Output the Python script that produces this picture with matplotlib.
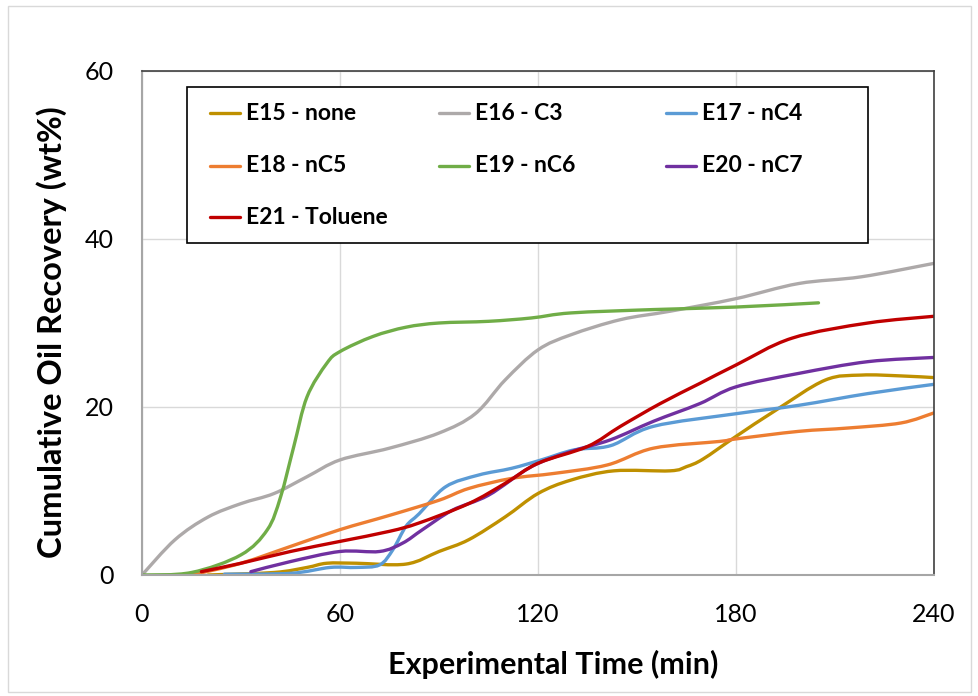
import numpy as np
import matplotlib.pyplot as plt
from matplotlib.lines import Line2D
from matplotlib.patches import PathPatch, Rectangle
from matplotlib.path import Path

# E15 - none
e15_t = [20, 40, 50, 56, 65, 80, 90, 99, 110, 120, 130, 143, 160, 165, 170, 180, 192, 207, 218, 230, 240]
e15_r = [0.0, 0.3, 0.9, 1.4, 1.4, 1.3, 2.8, 4.2, 6.9, 9.7, 11.3, 12.4, 12.4, 12.9, 13.8, 16.5, 19.6, 23.2, 23.8, 23.7, 23.5]
# E16 - C3
e16_t = [0, 10, 20, 30, 40, 50, 60, 75, 90, 101, 110, 120, 130, 145, 160, 180, 199, 218, 240]
e16_r = [0.0, 4.2, 6.9, 8.5, 9.7, 11.7, 13.7, 15.1, 16.9, 19.2, 23.2, 26.8, 28.6, 30.4, 31.4, 32.9, 34.7, 35.5, 37.1]
# E17 - nC4
e17_t = [25, 45, 57, 65, 72, 76, 80, 84, 92, 102, 112, 121, 131, 142, 155, 180, 199, 220, 240]
e17_r = [0.1, 0.2, 0.9, 0.9, 1.2, 3.0, 5.8, 7.3, 10.5, 11.9, 12.7, 13.7, 14.9, 15.4, 17.7, 19.2, 20.2, 21.6, 22.7]
# E18 - nC5
e18_t = [15, 30, 45, 60, 75, 90, 99, 112, 125, 141, 155, 175, 180, 199, 214, 230, 240]
e18_r = [0.0, 1.4, 3.4, 5.4, 7.1, 8.9, 10.3, 11.5, 12.1, 13.1, 15.1, 15.9, 16.2, 17.1, 17.5, 18.1, 19.3]
# E19 - nC6
e19_t = [0, 15, 30, 38, 42, 46, 50, 56, 60, 70, 80, 90, 105, 118, 130, 155, 180, 205]
e19_r = [0.0, 0.3, 2.4, 5.4, 9.3, 15.3, 21.2, 25.2, 26.6, 28.4, 29.5, 30.0, 30.2, 30.6, 31.2, 31.6, 31.9, 32.4]
# E20 - nC7
e20_t = [33, 45, 60, 72, 79, 85, 94, 105, 118, 130, 142, 155, 169, 180, 199, 220, 240]
e20_r = [0.4, 1.6, 2.8, 2.8, 3.8, 5.4, 7.7, 9.5, 12.9, 14.7, 16.1, 18.3, 20.4, 22.4, 24.0, 25.4, 25.9]
# E21 - Toluene
e21_t = [18, 30, 45, 60, 75, 84, 99, 110, 120, 135, 145, 157, 169, 180, 197, 220, 240]
e21_r = [0.4, 1.4, 2.8, 4.0, 5.2, 6.2, 8.5, 10.9, 13.3, 15.3, 17.7, 20.4, 22.8, 25.0, 28.2, 30.0, 30.8]

series = [
    ("E15 - none", e15_t, e15_r, "#BF9000"),
    ("E16 - C3", e16_t, e16_r, "#ADA9A9"),
    ("E17 - nC4", e17_t, e17_r, "#5B9BD5"),
    ("E18 - nC5", e18_t, e18_r, "#ED7D31"),
    ("E19 - nC6", e19_t, e19_r, "#70AD47"),
    ("E20 - nC7", e20_t, e20_r, "#7030A0"),
    ("E21 - Toluene", e21_t, e21_r, "#C00000"),
]


def smooth_path(t, r):
    # bezier through the points, like excel's "smoothed line"
    pts = np.column_stack([t, r]).astype(float)
    n = len(pts)
    verts = [pts[0]]
    codes = [Path.MOVETO]
    for i in range(n - 1):
        p0 = pts[i - 1] if i > 0 else pts[i]
        p1, p2 = pts[i], pts[i + 1]
        p3 = pts[i + 2] if i + 2 < n else pts[i + 1]
        verts += [p1 + (p2 - p0) / 6, p2 - (p3 - p1) / 6, p2]
        codes += [Path.CURVE4] * 3
    return Path(verts, codes)


plt.rcParams["font.family"] = ["Lato", "DejaVu Sans"]

fig = plt.figure(figsize=(9.79, 6.96), dpi=100)
ax = fig.add_axes([142 / 979, 1 - 575 / 696, 792 / 979, 504 / 696])

for name, t, r, c in series:
    ax.add_patch(PathPatch(smooth_path(t, r), fill=False, edgecolor=c, lw=2.4,
                           capstyle="round", joinstyle="round"))

ax.set_xlim(0, 240)
ax.set_ylim(0, 60)
ax.set_xticks([0, 60, 120, 180, 240])
ax.set_yticks([0, 20, 40, 60])
ax.grid(True, color="#d9d9d9", lw=1)
ax.set_axisbelow(True)
ax.tick_params(length=0, labelsize=18, pad=20)

for side in ["left", "bottom"]:
    ax.spines[side].set_color("#a6a6a6")
    ax.spines[side].set_linewidth(1.5)
for side in ["top", "right"]:
    ax.spines[side].set_color("#404040")
    ax.spines[side].set_linewidth(1.2)

ax.set_xlabel("Experimental Time (min)", fontsize=22, fontweight="bold")
ax.set_ylabel("Cumulative Oil Recovery (wt%)", fontsize=23.5, fontweight="bold")
ax.xaxis.set_label_coords(0.519, -0.148)
ax.yaxis.set_label_coords(-0.095, 0.482)


# legend box, filled row by row like the original
def fx(px):
    return px / 979


def fy(py):
    return 1 - py / 696


fig.patches.append(Rectangle((fx(187), fy(243)), fx(868) - fx(187), fy(87) - fy(243),
                             transform=fig.transFigure, facecolor="white",
                             edgecolor="black", lw=1.2))
col_x = [210, 439, 666]
row_y = [113, 166, 217]
for k, (name, t, r, c) in enumerate(series):
    x0 = col_x[k % 3]
    y0 = row_y[k // 3]
    fig.add_artist(Line2D([fx(x0), fx(x0 + 30)], [fy(y0), fy(y0)], transform=fig.transFigure,
                          color=c, lw=2.4, solid_capstyle="round"))
    fig.text(fx(x0 + 36), fy(y0), name, fontsize=16.5, fontweight="bold", va="center")

fig.patches.append(Rectangle((8 / 979, 4 / 696), 963 / 979, 686 / 696, transform=fig.transFigure,
                             fill=False, edgecolor="#d9d9d9", lw=1))

fig.savefig("out.png", dpi=100)
